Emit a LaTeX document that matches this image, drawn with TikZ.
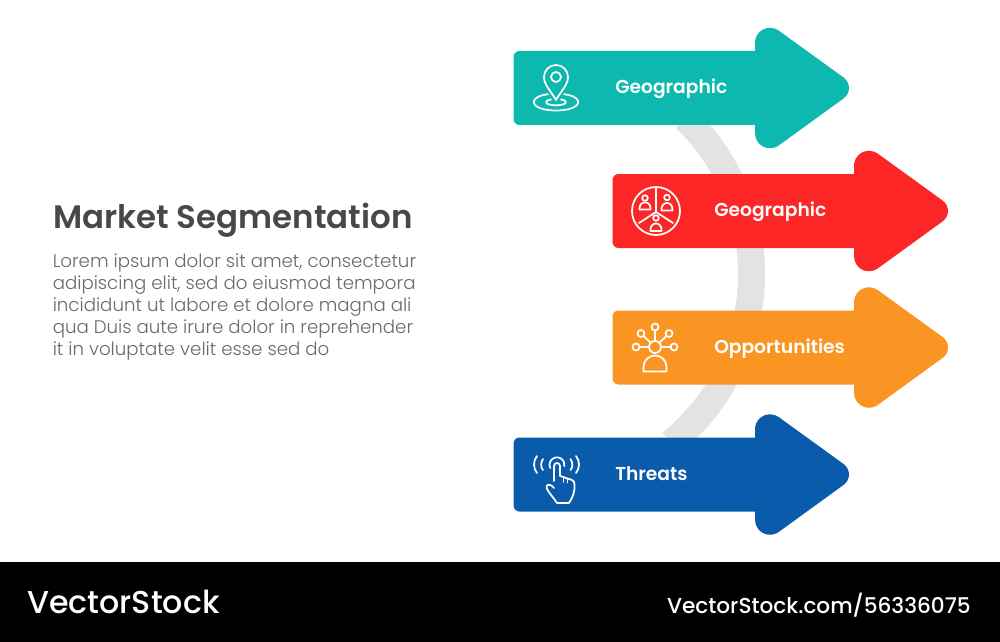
\documentclass[tikz,border=0pt]{standalone}
\usepackage{fontspec}
\setmainfont{Poppins}
\newfontfamily\popsemi{Poppins SemiBold}
\newfontfamily\popmed{Poppins Medium}
\newfontfamily\poplight{Poppins Light}
\definecolor{tealc}{HTML}{0DB9AE}
\definecolor{redc}{HTML}{FC2626}
\definecolor{orangec}{HTML}{FA9524}
\definecolor{bluec}{HTML}{0A5BAB}
\definecolor{arcc}{HTML}{E3E3E3}
\definecolor{titlec}{HTML}{484848}
\definecolor{bodyc}{HTML}{6A6A6A}
\tikzset{
  icon/.style={draw=white,line width=1.3pt,line cap=round,line join=round,fill=none},
  arrowlabel/.style={text=white,anchor=west,font=\popsemi\fontsize{14}{16}\selectfont,inner sep=0pt},
}
% #1 left x, #2 centre y, #3 colour
\newcommand{\bigarrow}[3]{%
  \fill[#3,shift={(#1,#2)}]
    (6,-37) -- (241.5,-37) -- (241.5,-45.2)
    arc[start angle=180,end angle=305.9,radius=15] -- (330.2,-10.4)
    arc[start angle=305.9,end angle=414.1,radius=12.8] -- (265.3,57.4)
    arc[start angle=54.1,end angle=180,radius=15] -- (241.5,37) -- (6,37)
    arc[start angle=90,end angle=180,radius=6] -- (0,-31)
    arc[start angle=180,end angle=270,radius=6] -- cycle;
}
\begin{document}
\begin{tikzpicture}[x=0.75pt,y=-0.75pt]
\useasboundingbox (0,0) rectangle (1000,642);
\fill[white] (0,0) rectangle (1000,642);
% curved band behind the arrows
\draw[arcc,line width=20.25pt] (534.5,274.3) ++(-46:217) arc[start angle=-46,end angle=51,radius=217];
% arrows
\bigarrow{513.5}{88}{tealc}
\bigarrow{612.5}{211}{redc}
\bigarrow{612.5}{347.5}{orangec}
\bigarrow{513.5}{474.5}{bluec}
% labels
\node[arrowlabel] (l1) at (615,89) {Geographic};
\node[arrowlabel] (l2) at (714,212) {Geographic};
\node[arrowlabel] (l3) at (714,349) {Opportunities};
\node[arrowlabel] (l4) at (615,474) {Threats};
% left text
\node[anchor=west,inner sep=0pt,text=titlec,font=\popsemi\fontsize{24.35}{28}\selectfont] (title) at (53,220) {Market Segmentation};
\node[anchor=north west,inner sep=0pt,text=bodyc,align=left,font=\poplight\fontsize{13.65}{16.5}\selectfont] (body) at (52.5,254)
 {Lorem ipsum dolor sit amet, consectetur\\adipiscing elit, sed do eiusmod tempora\\incididunt ut labore et dolore magna ali\\qua Duis aute irure dolor in reprehender\\it in voluptate velit esse sed do};
% pin icon
\draw[icon] (556,100) .. controls (551,91) and (544,85) .. (544,77) arc[start angle=180,end angle=360,radius=12] .. controls (568,85) and (561,91) .. (556,100) -- cycle;
\draw[icon] (556,77) circle[radius=5];
\draw[icon] (548,94.2) .. controls (526,97) and (530,110.5) .. (556,110.5) .. controls (582,110.5) and (586,97) .. (564,94.2);
\draw[icon] (551,99.5) .. controls (542,101) and (546,105.3) .. (556,105.3) .. controls (566,105.3) and (570,101) .. (561,99.5);
% segmented circle icon
\draw[icon] (656,211) circle[radius=24];
\draw[icon] (656,187) -- (656,212) (639,223) -- (656,212) -- (673,223);
\draw[icon] (645,198) circle[radius=2.8] (667,197.5) circle[radius=2.8] (656,218) circle[radius=2.8];
\draw[icon] (639.5,209.5) -- (650.5,209.5) .. controls (651.5,200) and (638.5,200) .. (639.5,209.5) -- cycle;
\draw[icon] (661.5,210.5) -- (672.5,210.5) .. controls (673.5,200.5) and (660.5,200.5) .. (661.5,210.5) -- cycle;
\draw[icon] (650.5,231) -- (661.5,231) .. controls (662.5,221) and (649.5,221) .. (650.5,231) -- cycle;
% network person icon
\draw[icon] (655,347) circle[radius=6];
\draw[icon] (655,327) circle[radius=3.5] (641,333.5) circle[radius=3.5] (669,333.5) circle[radius=3.5] (636,347) circle[radius=3.5] (674,347) circle[radius=3.5];
\draw[icon] (655,341) -- (655,330.5) (650.5,342.5) -- (643.5,336) (659.5,342.5) -- (666.5,336) (649,347) -- (639.5,347) (661,347) -- (670.5,347);
\draw[icon] (643.5,371.5) -- (666.5,371.5) -- (666.5,367) arc[start angle=0,end angle=-180,radius=11.5] -- cycle;
% touch icon
\draw[icon] (550.2,468) arc[start angle=155,end angle=370,radius=7.5];
\draw[icon] (537,456) .. controls (533,461) and (533,468) .. (537,473);
\draw[icon] (543,459) .. controls (540.5,463) and (540.5,467) .. (543,470);
\draw[icon] (576,456) .. controls (580,461) and (580,468) .. (576,473);
\draw[icon] (570.5,459) .. controls (573,463) and (573,467) .. (570.5,470);
\draw[icon] (554,481) -- (554,466) .. controls (554,462) and (560,462) .. (560,466) -- (560,476) -- (563.5,477) -- (567,478.5) -- (571,479.5)
  .. controls (574,480.5) and (574.5,482) .. (574.5,485) .. controls (575,491) and (573,497) .. (569,503) -- (557,503)
  .. controls (553,497) and (549,493) .. (547,489) .. controls (545,485) and (549,482) .. (554,488) ;
\draw[icon] (563.5,477) -- (563.5,482) (567.5,478.5) -- (567.5,482.5);
% footer
\fill[black] (0,562) rectangle (1000,642);
\node[anchor=west,inner sep=0pt,text=white,font=\popmed\fontsize{23.75}{28}\selectfont] (brand) at (27,601.5) {VectorStock};
\node[anchor=east,inner sep=0pt,text=white,font=\popmed\fontsize{16.2}{20}\selectfont] (url) at (971,605) {VectorStock.com/56336075};
\end{tikzpicture}
\end{document}
